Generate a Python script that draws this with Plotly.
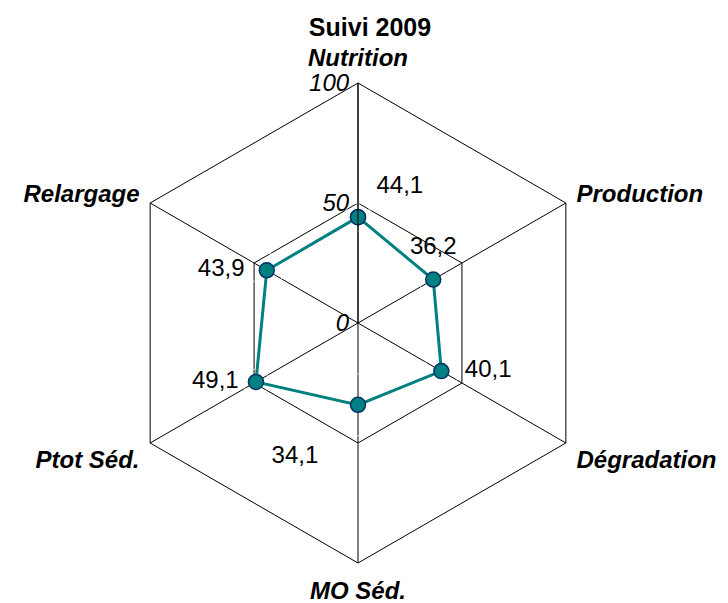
import plotly.graph_objects as go

categories = ["Nutrition", "Production", "Dégradation", "MO Séd.", "Ptot Séd.", "Relargage"]
values = [44.1, 36.2, 40.1, 34.1, 49.1, 43.9]
value_labels = ["44,1", "36,2", "40,1", "34,1", "49,1", "43,9"]
label_positions = ["top right", "top center", "middle right", "bottom left", "middle left", "middle left"]
label_offsets = [28, 30, 36, 62, 26, 34]   # invisible marker sizes that push the labels away
radial_ticks = [0, 50, 100]
radial_ticklabels = ["0", "50", "100"]
title_text = "Suivi 2009"

FONT = "Liberation Sans, Arial, sans-serif"
TEAL = "#008080"
FS = 24

fig = go.Figure()
fig.add_trace(go.Scatterpolar(
    r=values,
    theta=categories,
    mode="markers+text",
    marker=dict(size=label_offsets, color="rgba(0,0,0,0)"),
    text=value_labels,
    textposition=label_positions,
    textfont=dict(family=FONT, size=FS, color="black"),
    hoverinfo="skip",
    showlegend=False,
))
fig.add_trace(go.Scatterpolar(
    r=values + [values[0]],
    theta=categories + [categories[0]],
    mode="lines+markers",
    line=dict(color=TEAL, width=3),
    marker=dict(size=15, color=TEAL, line=dict(color="#003366", width=1.5)),
    hoverinfo="skip",
    showlegend=False,
))

W, H = 728, 603
cx, cy, R = 358, 323, 240
fig.update_layout(
    width=W, height=H,
    margin=dict(l=0, r=0, t=0, b=0),
    paper_bgcolor="white",
    plot_bgcolor="white",
    font=dict(family=FONT, color="black"),
    title=dict(text="<b>" + title_text + "</b>", x=370 / W, xanchor="center",
               y=1 - 27 / H, yanchor="middle",
               font=dict(family=FONT, size=FS + 1, color="black")),
    polar=dict(
        domain=dict(x=[(cx - R) / W, (cx + R) / W], y=[1 - (cy + R) / H, 1 - (cy - R) / H]),
        bgcolor="white",
        gridshape="linear",
        radialaxis=dict(
            range=[0, 100],
            tickvals=radial_ticks,
            ticktext=radial_ticklabels,
            angle=90,
            tickangle=90,
            side="counterclockwise",
            showline=True,
            linecolor="black",
            linewidth=1,
            gridcolor="black",
            gridwidth=1,
            ticks="",
            tickfont=dict(family=FONT, size=FS, color="black", style="italic"),
        ),
        angularaxis=dict(
            direction="clockwise",
            rotation=90,
            showline=True,
            linecolor="black",
            linewidth=1,
            gridcolor="black",
            gridwidth=1,
            ticks="outside",
            ticklen=7,
            tickcolor="rgba(0,0,0,0)",
            tickfont=dict(family=FONT, size=FS, color="black", style="italic", weight="bold"),
        ),
    ),
)

fig.write_html("out.html")
